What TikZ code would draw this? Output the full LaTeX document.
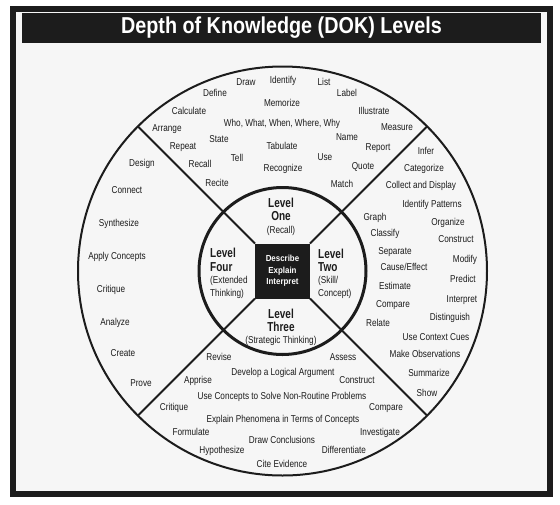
\documentclass[tikz,border=0pt]{standalone}
\usepackage{fontspec}
\setmainfont{Liberation Sans}
\newfontfamily\wf{Liberation Sans}[FakeStretch=0.82]
\newfontfamily\lvf{Liberation Sans}[FakeStretch=0.77]
\newfontfamily\tif{Liberation Sans}[FakeStretch=0.86]
\newfontfamily\sqf{Liberation Sans}[FakeStretch=0.90]
\definecolor{ink}{HTML}{1C1C1C}
\definecolor{paper}{HTML}{F6F6F6}
\begin{document}
\begin{tikzpicture}[x=1pt,y=-1pt,
  w/.style={font=\wf\fontsize{10}{11}\selectfont, text=ink, inner sep=0pt, text height=7.2pt, text depth=0pt},
  lv/.style={font=\lvf\bfseries\fontsize{13}{14}\selectfont, text=ink, inner sep=0pt, text height=9.3pt, text depth=0pt},
  ring/.style={circle, draw=ink, inner sep=0pt, outer sep=0pt},
  spoke/.style={draw=ink, line width=2pt}]
\useasboundingbox (0,0) rectangle (560,504);
\fill[white] (0,0) rectangle (560,504);
\draw[ink, line width=6pt, fill=paper] (12.5,8.5) rectangle (549.5,493.5);
\node[fill=ink, text=white, minimum width=519pt, minimum height=30pt, inner sep=0pt,
      font=\tif\bfseries\fontsize{23}{24}\selectfont] (title) at (281.5,28) {Depth of Knowledge (DOK) Levels};
% rings
\node[ring, minimum size=409pt, line width=2pt] (outer) at (282.5,271) {};
\node[ring, minimum size=167pt, line width=3pt] (inner) at (282.5,271) {};
\node[fill=ink, minimum size=55pt, inner sep=0pt, outer sep=0pt, text=white, align=center,
      font=\sqf\bfseries\fontsize{8.8}{11.5}\selectfont] (sq) at (282.5,271) {Describe\\Explain\\Interpret};
\draw[spoke] (sq.north west) -- (outer.135);
\draw[spoke] (sq.north east) -- (outer.45);
\draw[spoke] (sq.south west) -- (outer.225);
\draw[spoke] (sq.south east) -- (outer.315);
% level labels
\node[lv] (l1a) at (281,203) {Level};
\node[lv] (l1b) at (281,216) {One};
\node[w]  (l1c) at (281,230) {(Recall)};
\node[lv] (l3a) at (281,314) {Level};
\node[lv] (l3b) at (281,327) {Three};
\node[w]  (l3c) at (281,340) {(Strategic Thinking)};
\node[lv, anchor=west] (l4a) at (210,253) {Level};
\node[lv, anchor=west] (l4b) at (210,267) {Four};
\node[w, anchor=west]  (l4c) at (210,280) {(Extended};
\node[w, anchor=west]  (l4d) at (210,293) {Thinking)};
\node[lv, anchor=west] (l2a) at (318,254) {Level};
\node[lv, anchor=west] (l2b) at (318,267) {Two};
\node[w, anchor=west]  (l2c) at (318,280) {(Skill/};
\node[w, anchor=west]  (l2d) at (318,293) {Concept)};
% level one words
\foreach \x/\y/\t [count=\i] in {246/82/Draw, 283/80/Identify, 324/82/List, 215/93/Define, 347/93/Label,
  282/103/Memorize, 189/111/Calculate, 374/111/Illustrate, 282/123/{Who, What, When, Where, Why},
  167/128/Arrange, 397/127/Measure, 219/139/State, 347/137/Name, 183/146/Repeat, 282/146/Tabulate,
  378/147/Report, 237/158/Tell, 325/157/Use, 200/164/Recall, 363/166/Quote, 283/168/Recognize,
  217/183/Recite, 342/184/Match}
  \node[w] (a\i) at (\x,\y) {\t};
% level four words
\foreach \x/\y/\t [count=\i] in {142/163/Design, 127/190/Connect, 119/223/Synthesize, 117/256/{Apply Concepts},
  111/289/Critique, 115/322/Analyze, 123/353/Create, 141/383/Prove}
  \node[w] (d\i) at (\x,\y) {\t};
% level two words
\foreach \x/\y/\t [count=\i] in {426/151/Infer, 424/168/Categorize, 421/185/{Collect and Display},
  432/204/{Identify Patterns}, 375/217/Graph, 448/222/Organize, 385/233/Classify, 456/239/Construct,
  395/251/Separate, 465/259/Modify, 404/267/{Cause/Effect}, 463/279/Predict, 395/286/Estimate,
  462/299/Interpret, 393/304/Compare, 378/323/Relate, 450/317/Distinguish, 436/337/{Use Context Cues},
  425/354/{Make Observations}, 429/373/Summarize, 427/393/Show}
  \node[w] (b\i) at (\x,\y) {\t};
% level three words
\foreach \x/\y/\t [count=\i] in {219/357/Revise, 343/357/Assess, 283/372/{Develop a Logical Argument},
  198/380/Apprise, 357/380/Construct, 282/396/{Use Concepts to Solve Non-Routine Problems},
  174/407/Critique, 386/407/Compare, 283/419/{Explain Phenomena in Terms of Concepts},
  191/432/Formulate, 380/432/Investigate, 282/440/{Draw Conclusions}, 222/450/Hypothesize,
  344/450/Differentiate, 282/464/{Cite Evidence}}
  \node[w] (c\i) at (\x,\y) {\t};
\end{tikzpicture}
\end{document}
